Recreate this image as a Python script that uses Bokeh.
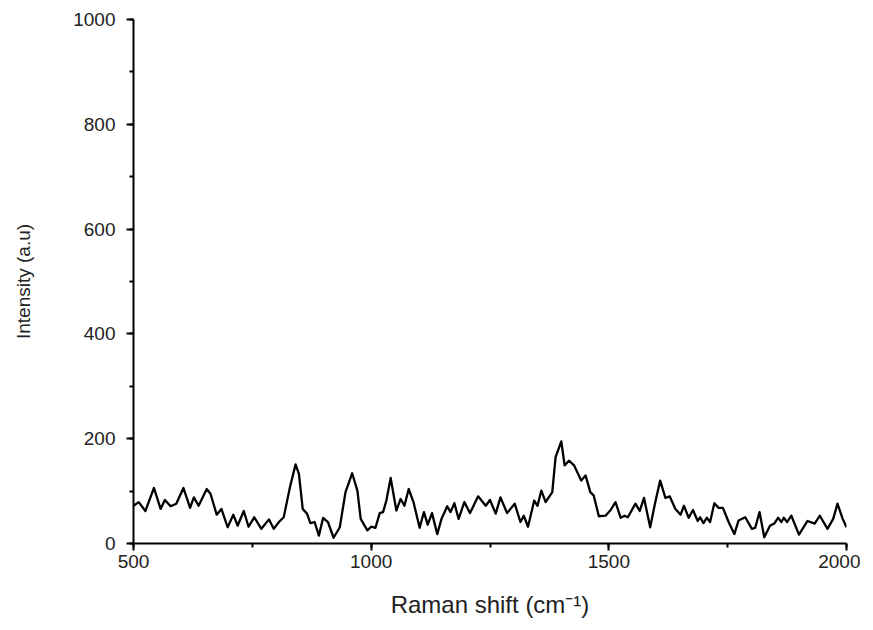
from bokeh.plotting import figure
from bokeh.models import SingleIntervalTicker, Range1d
from bokeh.embed import file_html
from bokeh.resources import INLINE

shift = [500, 511, 525, 543, 557, 566, 578, 590, 605, 619, 627, 637, 654, 662, 675, 685, 698, 710, 719, 732,
         742, 754, 769, 785, 795, 806, 816, 829, 841, 848, 856, 865, 872, 881, 890, 899, 909, 921, 934, 946,
         960, 971, 978, 992, 1000, 1009, 1018, 1025, 1032, 1041, 1053, 1062, 1070, 1079, 1089, 1102, 1111, 1119, 1128, 1139,
         1148, 1160, 1167, 1175, 1184, 1196, 1208, 1225, 1241, 1250, 1262, 1272, 1286, 1302, 1314, 1321, 1330, 1343, 1350, 1358,
         1367, 1381, 1388, 1400, 1407, 1416, 1427, 1442, 1451, 1461, 1468, 1479, 1493, 1503, 1514, 1525, 1533, 1540, 1556, 1565,
         1574, 1587, 1597, 1608, 1619, 1628, 1640, 1651, 1658, 1668, 1677, 1687, 1692, 1699, 1706, 1713, 1722, 1731, 1740, 1752,
         1764, 1773, 1787, 1801, 1808, 1817, 1827, 1839, 1848, 1856, 1863, 1868, 1875, 1884, 1900, 1918, 1933, 1944, 1960, 1972,
         1981, 1992, 2000]
intensity = [72, 79, 62, 106, 66, 83, 71, 76, 106, 68, 88, 72, 104, 95, 55, 66, 31, 55, 34, 62,
             32, 50, 28, 46, 28, 41, 50, 107, 151, 133, 66, 57, 39, 41, 15, 49, 41, 11, 31, 98,
             134, 101, 47, 25, 32, 30, 58, 60, 82, 125, 63, 85, 72, 104, 79, 30, 60, 36, 58, 18,
             47, 71, 60, 77, 47, 79, 58, 90, 72, 83, 57, 88, 58, 76, 41, 53, 32, 82, 72, 101,
             79, 98, 165, 195, 149, 158, 149, 120, 130, 98, 92, 52, 53, 63, 79, 49, 53, 50, 76, 62,
             87, 31, 76, 120, 87, 90, 66, 55, 72, 49, 64, 43, 50, 39, 49, 41, 77, 68, 68, 41,
             18, 44, 50, 28, 30, 60, 12, 34, 38, 49, 41, 49, 41, 53, 17, 43, 38, 53, 28, 47,
             76, 47, 31]

FONT = "Liberation Sans"

p = figure(width=860, height=625, output_backend="svg", toolbar_location=None,
           x_range=Range1d(500, 2000), y_range=Range1d(0, 1000),
           min_border_left=133, min_border_right=14, min_border_top=19, min_border_bottom=82)
p.outline_line_color = None
p.xgrid.visible = False
p.ygrid.visible = False

p.line(shift, intensity, line_color="black", line_width=2.3, line_join="round")

p.xaxis.ticker = SingleIntervalTicker(interval=500, num_minor_ticks=2)
p.yaxis.ticker = SingleIntervalTicker(interval=200, num_minor_ticks=2)

for ax in (p.xaxis, p.yaxis):
    ax.axis_line_width = 2
    ax.axis_line_color = "black"
    ax.major_tick_line_width = 2
    ax.minor_tick_line_width = 2
    ax.major_tick_in = 0
    ax.major_tick_out = 7
    ax.minor_tick_in = 0
    ax.minor_tick_out = 4
    ax.major_label_text_font = FONT
    ax.major_label_text_font_size = "19px"
    ax.major_label_text_color = "#222222"
    ax.axis_label_text_font = FONT
    ax.axis_label_text_font_style = "normal"
    ax.axis_label_text_color = "#222222"

p.xaxis.axis_label = "Raman shift (cm\u207b\u00b9)"
p.yaxis.axis_label = "Intensity (a.u)"
p.xaxis.axis_label_text_font_size = "24px"
p.yaxis.axis_label_text_font_size = "19px"
p.xaxis.major_label_standoff = 4
p.yaxis.major_label_standoff = 11
p.xaxis.axis_label_standoff = 20
p.yaxis.axis_label_standoff = 36

open("out.html", "w").write(file_html(p, INLINE))
